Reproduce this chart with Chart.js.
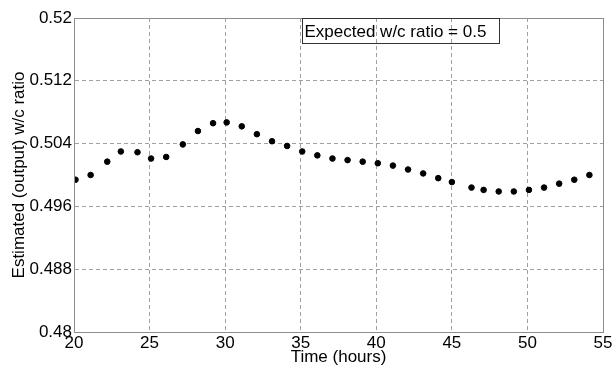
<!DOCTYPE html>
<html>
<head>
<meta charset="utf-8">
<script src="https://cdn.jsdelivr.net/npm/chart.js@4.4.0/dist/chart.umd.min.js"></script>
<style>
  html, body { margin: 0; padding: 0; background: #fff; }
</style>
</head>
<body>
<canvas id="c" width="615" height="368"></canvas>
<script>
// time (hours) and estimated w/c ratio
const hours = [20.1, 21.1, 22.2, 23.1, 24.2, 25.1, 26.1, 27.2, 28.2, 29.2, 30.1, 31.1,
  32.1, 33.1, 34.1, 35.1, 36.1, 37.1, 38.1, 39.1, 40.1, 41.1, 42.1, 43.1, 44.1, 45.0,
  46.3, 47.1, 48.1, 49.1, 50.1, 51.1, 52.1, 53.1, 54.1];
const ratio = [0.4994, 0.5000, 0.5017, 0.5030, 0.5029, 0.5021, 0.5023, 0.5039, 0.5056,
  0.5066, 0.5067, 0.5062, 0.5052, 0.5043, 0.5037, 0.5030, 0.5025, 0.5021, 0.5019,
  0.5017, 0.5015, 0.5012, 0.5007, 0.5002, 0.4996, 0.4991, 0.4984, 0.4981, 0.4979,
  0.4979, 0.4981, 0.4984, 0.4989, 0.4994, 0.5000];

const xTicks = [20, 25, 30, 35, 40, 45, 50, 55];
const yTicks = [0.48, 0.488, 0.496, 0.504, 0.512, 0.52];
const yTickLabels = ['0.48', '0.488', '0.496', '0.504', '0.512', '0.52'];
const boxText = 'Expected w/c ratio = 0.5';

const FONT = { family: 'Arial, "Liberation Sans", sans-serif', size: 17 };

// frame round the plot and the text box in the upper part
const framePlugin = {
    id: 'frame',
    afterDraw(chart) {
        const { ctx, chartArea: a } = chart;
        ctx.save();
        ctx.strokeStyle = '#8c8c8c';
        ctx.lineWidth = 1;
        ctx.strokeRect(a.left + 0.5, a.top + 0.5, a.right - a.left, a.bottom - a.top);

        ctx.font = `${FONT.size}px ${FONT.family}`;
        ctx.fillStyle = '#000';
        ctx.textBaseline = 'middle';
        ctx.textAlign = 'left';
        const bx = 302.5, by = a.top + 0.5, bw = 197, bh = 25;
        ctx.strokeStyle = '#333';
        ctx.strokeRect(bx, by, bw, bh);
        ctx.fillText(boxText, bx + 2, by + bh / 2 + 1);
        ctx.restore();
    }
};

new Chart(document.getElementById('c'), {
    type: 'scatter',
    data: {
        datasets: [{
            data: hours.map((h, i) => ({ x: h, y: ratio[i] })),
            backgroundColor: '#000',
            borderColor: '#000',
            pointRadius: 2.8,
            pointHoverRadius: 2.8
        }]
    },
    options: {
        responsive: false,
        animation: false,
        devicePixelRatio: 1,
        layout: { padding: { top: 18, right: 12, left: 0, bottom: 0 } },
        plugins: { legend: { display: false }, tooltip: { enabled: false } },
        scales: {
            x: {
                type: 'linear',
                min: 20,
                max: 55,
                afterFit: s => { s.height = 36; },
                afterBuildTicks: s => { s.ticks = xTicks.map(v => ({ value: v })); },
                ticks: { color: '#000', font: FONT, padding: 1, maxRotation: 0 },
                grid: { color: '#a0a0a0', drawTicks: false },
                border: { color: '#8c8c8c', dash: [4, 3] },
                title: { display: true, text: 'Time (hours)', color: '#000', font: FONT, padding: { top: 0, bottom: 0 } }
            },
            y: {
                min: 0.48,
                max: 0.52,
                afterFit: s => { s.width = 74; },
                afterBuildTicks: s => { s.ticks = yTicks.map(v => ({ value: v })); },
                ticks: {
                    color: '#000', font: FONT, padding: 2,
                    callback: v => yTickLabels[yTicks.findIndex(t => Math.abs(t - v) < 1e-6)]
                },
                grid: { color: '#a0a0a0', drawTicks: false },
                border: { color: '#8c8c8c', dash: [4, 3] },
                title: { display: true, text: 'Estimated (output) w/c ratio', color: '#000', font: FONT, padding: { top: 9, bottom: 0 } }
            }
        }
    },
    plugins: [framePlugin]
});
</script>
</body>
</html>
